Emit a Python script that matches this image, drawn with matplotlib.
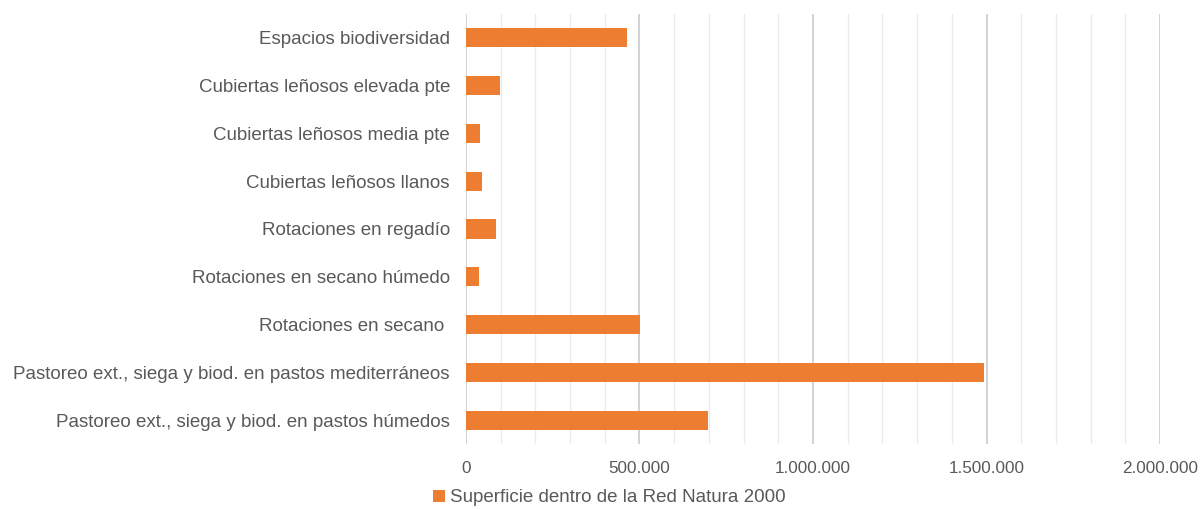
import matplotlib.pyplot as plt
from matplotlib.ticker import FuncFormatter, MultipleLocator

# categories from top to bottom
categories = [
    'Espacios biodiversidad',
    'Cubiertas leñosos elevada pte',
    'Cubiertas leñosos media pte',
    'Cubiertas leñosos llanos',
    'Rotaciones en regadío',
    'Rotaciones en secano húmedo',
    'Rotaciones en secano ',
    'Pastoreo ext., siega y biod. en pastos mediterráneos',
    'Pastoreo ext., siega y biod. en pastos húmedos',
]
superficie = [464000, 99000, 40000, 45000, 86000, 37000, 501000, 1494000, 698000]
serie_label = 'Superficie dentro de la Red Natura 2000'

plt.rcParams['font.family'] = ['Liberation Sans', 'DejaVu Sans']

fig = plt.figure(figsize=(12, 5.09), dpi=100)
ax = fig.add_axes([0.3883, 0.1277, 0.5784, 0.8448])

y = list(range(len(categories)))
ax.barh(y, superficie, height=0.4, color='#ED7D31', label=serie_label, zorder=3)

ax.set_xlim(0, 2000000)
ax.set_ylim(len(categories) - 0.5, -0.5)
ax.set_yticks(y)
ax.set_yticklabels(categories)

ax.xaxis.set_major_locator(MultipleLocator(500000))
ax.xaxis.set_minor_locator(MultipleLocator(100000))
ax.xaxis.set_major_formatter(FuncFormatter(lambda v, p: f'{int(v):,}'.replace(',', '.')))
ax.grid(axis='x', which='major', color='#D0D0D0', linewidth=1.3, zorder=0)
ax.grid(axis='x', which='minor', color='#EBEBEB', linewidth=1.0, zorder=0)

for s in ax.spines.values():
    s.set_visible(False)
ax.tick_params(axis='both', which='both', length=0, colors='#595959')
ax.tick_params(axis='y', labelsize=13.5, pad=11.5)
ax.tick_params(axis='x', labelsize=12.3, pad=12)

fig.legend(loc='lower center', bbox_to_anchor=(0.508, -0.028), frameon=False,
           fontsize=13.5, labelcolor='#595959', handlelength=0.6, handleheight=0.6,
           handletextpad=0.3)

fig.savefig('out.png', dpi=100)
